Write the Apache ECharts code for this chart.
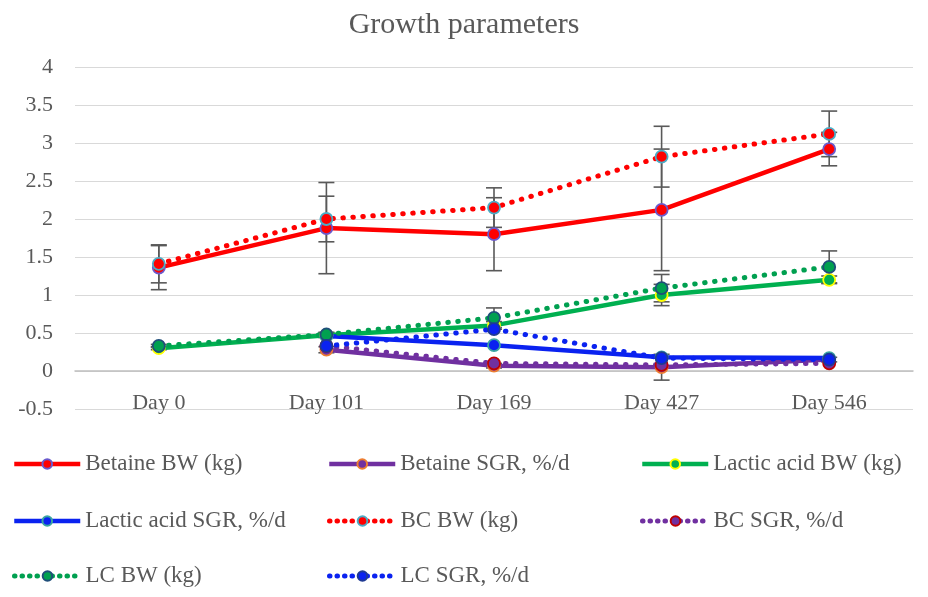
<!DOCTYPE html>
<html>
<head>
<meta charset="utf-8">
<script src="https://cdn.jsdelivr.net/npm/echarts@6/dist/echarts.min.js"></script>
<style>
  html, body { margin: 0; padding: 0; background: #fff; }
  #chart { width: 928px; height: 597px; }
</style>
</head>
<body>
<div id="chart"></div>
<script>
// ---------- data ----------
const days = ['Day 0', 'Day 101', 'Day 169', 'Day 427', 'Day 546'];
const yTicks = [-0.5, 4, 0.5]; // min, max, step

const betaineBW  = [1.36, 1.88, 1.80, 2.12, 2.92];
const betaineSGR = [null, 0.28, 0.07, 0.05, 0.15];
const lacticBW   = [0.30, 0.47, 0.60, 1.00, 1.20];
const lacticSGR  = [null, 0.46, 0.34, 0.18, 0.17];
const bcBW       = [1.41, 2.00, 2.15, 2.82, 3.12];
const bcSGR      = [null, 0.33, 0.10, 0.08, 0.10];
const lcBW       = [0.33, 0.48, 0.70, 1.09, 1.37];
const lcSGR      = [null, 0.33, 0.55, 0.17, 0.15];

// error bar half-widths (same order as the values)
const betaineBWErr  = [0.29, 0.60, 0.48, 0.80, 0.22];
const bcBWErr       = [0.25, 0.30, 0.26, 0.40, 0.30];
const lacticBWErr   = [0.02, 0.03, 0.05, 0.14, 0.05];
const lcBWErr       = [0.02, 0.03, 0.13, 0.18, 0.21];
const betaineSGRErr = [null, 0.04, 0.03, 0.17, 0.03];

// ---------- helpers ----------
const FONT = '"Liberation Serif", "Times New Roman", serif';
const GRAY = '#595959';
const DOTS = [0.5, 9.5];

function lineSeries(name, data, color, border, dotted) {
  return {
    name: name,
    type: 'line',
    data: data,
    z: 3,
    symbol: 'circle',
    symbolSize: 12,
    connectNulls: false,
    lineStyle: dotted
      ? { color: color, width: 5, type: DOTS, cap: 'round' }
      : { color: color, width: 4.5 },
    itemStyle: { color: color, borderColor: border, borderWidth: 1.8 },
    emphasis: { disabled: true }
  };
}

function errorItems(values, errs) {
  const out = [];
  values.forEach(function (v, i) {
    if (v == null || errs[i] == null) return;
    out.push([i, v - errs[i], v + errs[i]]);
  });
  return out;
}

const errData = [].concat(
  errorItems(betaineBW, betaineBWErr),
  errorItems(bcBW, bcBWErr),
  errorItems(lacticBW, lacticBWErr),
  errorItems(lcBW, lcBWErr),
  errorItems(betaineSGR, betaineSGRErr)
);

// legend: one component per entry to get the 3-column layout
// [name, left, centre y, dotted]
const legendSlots = [
  ['Betaine BW (kg)', 12, 464, false], ['Betaine SGR, %/d', 327, 464, false], ['Lactic acid BW (kg)', 640, 464, false],
  ['Lactic acid SGR, %/d', 12, 521, false], ['BC BW (kg)', 327, 521, true], ['BC SGR, %/d', 640, 521, true],
  ['LC BW (kg)', 12, 576, true], ['LC SGR, %/d', 327, 576, true]
];

const legends = legendSlots.map(function (s) {
  return {
    data: [s[0]],
    left: s[1],
    top: s[2] - 13,
    itemWidth: 66,
    itemHeight: 12,
    itemGap: 0,
    padding: 0,
    selectedMode: false,
    lineStyle: s[3] ? { width: 5, type: [0.5, 7], cap: 'round' } : { width: 4.5 },
    textStyle: { fontFamily: FONT, fontSize: 23, color: GRAY, lineHeight: 26 }
  };
});

var chartDom = document.getElementById('chart');
var myChart = echarts.init(chartDom, null, { renderer: 'canvas' });
var option;

option = {
  animation: false,
  backgroundColor: '#fff',
  title: {
    text: 'Growth parameters',
    left: 'center',
    top: 5,
    textStyle: { fontFamily: FONT, fontSize: 30, fontWeight: 'normal', color: GRAY }
  },
  legend: legends,
  grid: { left: 75, right: 15, top: 67, bottom: 188 },
  xAxis: {
    type: 'category',
    data: days,
    boundaryGap: true,
    axisLine: { onZero: true, lineStyle: { color: '#bfbfbf', width: 1.5 } },
    axisTick: { show: false },
    axisLabel: { fontFamily: FONT, fontSize: 22, color: GRAY, margin: -17 }
  },
  yAxis: {
    type: 'value',
    min: yTicks[0],
    max: yTicks[1],
    interval: yTicks[2],
    axisLine: { show: false },
    axisTick: { show: false },
    splitLine: { lineStyle: { color: '#d9d9d9', width: 1 } },
    axisLabel: { fontFamily: FONT, fontSize: 22, color: GRAY, margin: 22 }
  },
  series: [
    lineSeries('Betaine BW (kg)', betaineBW, '#ff0000', '#6a5acd', false),
    lineSeries('Betaine SGR, %/d', betaineSGR, '#7030a0', '#ed7d31', false),
    lineSeries('Lactic acid BW (kg)', lacticBW, '#00b050', '#ffff00', false),
    lineSeries('Lactic acid SGR, %/d', lacticSGR, '#0a22f0', '#3aa6a0', false),
    lineSeries('BC BW (kg)', bcBW, '#ff0000', '#4bacc6', true),
    lineSeries('BC SGR, %/d', bcSGR, '#7030a0', '#c00000', true),
    lineSeries('LC BW (kg)', lcBW, '#00a050', '#1f4e79', true),
    lineSeries('LC SGR, %/d', lcSGR, '#0a22f0', '#1f3a93', true),
    {
      type: 'custom',
      name: 'error',
      z: 2,
      silent: true,
      data: errData,
      renderItem: function (params, api) {
        var x = api.value(0);
        var lo = api.coord([x, api.value(1)]);
        var hi = api.coord([x, api.value(2)]);
        var w = 8;
        var st = { stroke: GRAY, lineWidth: 1.6 };
        return {
          type: 'group',
          children: [
            { type: 'line', shape: { x1: lo[0], y1: lo[1], x2: hi[0], y2: hi[1] }, style: st },
            { type: 'line', shape: { x1: lo[0] - w, y1: lo[1], x2: lo[0] + w, y2: lo[1] }, style: st },
            { type: 'line', shape: { x1: hi[0] - w, y1: hi[1], x2: hi[0] + w, y2: hi[1] }, style: st }
          ]
        };
      }
    }
  ]
};

option && myChart.setOption(option);
</script>
</body>
</html>
